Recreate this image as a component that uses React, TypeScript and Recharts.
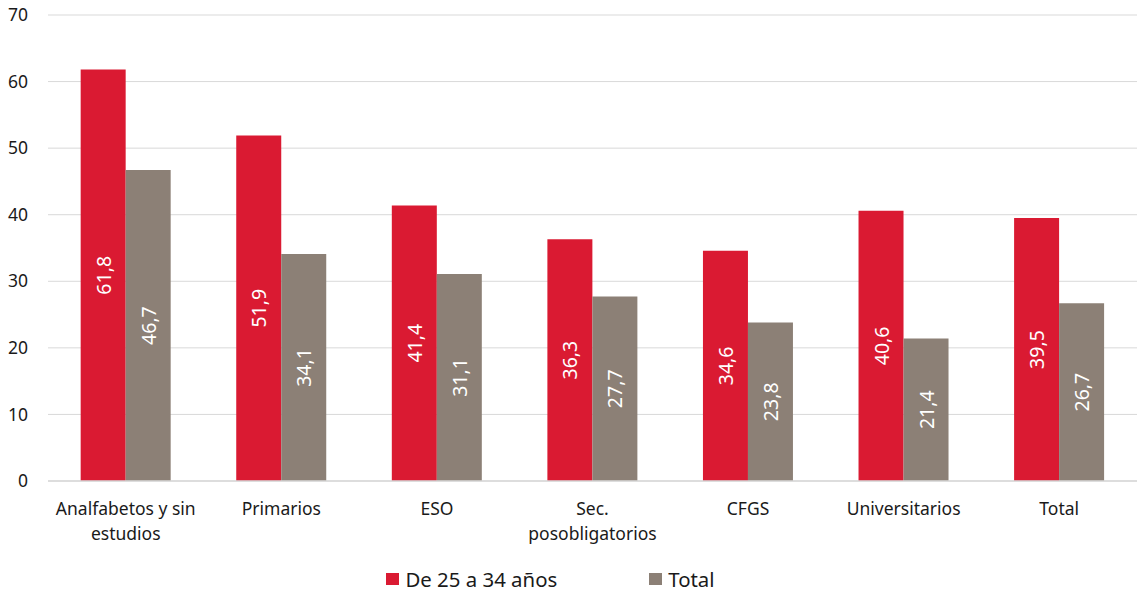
import React from "react";
import {
  BarChart,
  Bar,
  XAxis,
  YAxis,
  CartesianGrid,
  Legend,
  LabelList,
  Text,
} from "recharts";

const categories = [
  "Analfabetos y sin estudios",
  "Primarios",
  "ESO",
  "Sec. posobligatorios",
  "CFGS",
  "Universitarios",
  "Total",
];
const jovenes = [61.8, 51.9, 41.4, 36.3, 34.6, 40.6, 39.5];
const total = [46.7, 34.1, 31.1, 27.7, 23.8, 21.4, 26.7];
const yTicks = [0, 10, 20, 30, 40, 50, 60, 70];

const RED = "#DA1A32";
const GREY = "#8C8076";
const FONT = "'Noto Sans', 'Open Sans', sans-serif";

const data = categories.map((c, i) => ({
  categoria: c,
  jovenes: jovenes[i],
  total: total[i],
}));

const fmt = (v: number) => v.toFixed(1).replace(".", ",");

// value drawn vertically in the middle of each bar
const InsideLabel = (props: any) => {
  const { x, y, width, height, value } = props;
  const cx = x + width / 2;
  const cy = y + height / 2;
  return (
    <text
      x={cx}
      y={cy}
      transform={`rotate(-90, ${cx}, ${cy})`}
      textAnchor="middle"
      dominantBaseline="central"
      fill="#fff"
      fontSize={19.5}
      fontFamily={FONT}
    >
      {fmt(value)}
    </text>
  );
};

const CategoryTick = (props: any) => {
  const { x, y, payload } = props;
  return (
    <Text
      x={x}
      y={y}
      width={148}
      textAnchor="middle"
      verticalAnchor="start"
      fill="#1a1a1a"
      fontSize={17.5}
      fontFamily={FONT}
      style={{ fontFamily: FONT, fontSize: 17.5 }}
      lineHeight={25}
    >
      {payload.value}
    </Text>
  );
};

const LegendBox = () => {
  const items = [
    { label: "De 25 a 34 años", color: RED },
    { label: "Total", color: GREY },
  ];
  return (
    <div
      style={{
        display: "flex",
        justifyContent: "center",
        alignItems: "center",
        fontFamily: FONT,
        fontSize: 20.4,
        color: "#1a1a1a",
        paddingRight: 36,
      }}
    >
      {items.map((it, i) => (
        <div
          key={it.label}
          style={{
            display: "flex",
            alignItems: "center",
            marginRight: i === 0 ? 92 : 0,
          }}
        >
          <span
            style={{
              width: 13,
              height: 12,
              background: it.color,
              display: "inline-block",
              marginRight: 6,
            }}
          />
          <span>{it.label}</span>
        </div>
      ))}
    </div>
  );
};

export default function App() {
  return (
    <div style={{ position: "absolute", left: 0, top: 0, background: "#fff" }}>
      <BarChart
        width={1137}
        height={594}
        data={data}
        margin={{ top: 15, right: 0, left: 0, bottom: 0 }}
        barGap={0}
        barCategoryGap="21%"
      >
        <CartesianGrid vertical={false} stroke="#D9D9D9" />
        <XAxis
          dataKey="categoria"
          axisLine={{ stroke: "#D9D9D9", strokeWidth: 1.5 }}
          tickLine={false}
          tick={<CategoryTick />}
          tickMargin={16}
          height={85}
          interval={0}
        />
        <YAxis
          domain={[0, 70]}
          ticks={yTicks}
          axisLine={false}
          tickLine={false}
          width={48}
          tickMargin={14}
          tick={{ fill: "#1a1a1a", fontSize: 17.5, fontFamily: FONT }}
        />
        <Legend
          verticalAlign="bottom"
          content={<LegendBox />}
          wrapperStyle={{ bottom: 1 }}
        />
        <Bar dataKey="jovenes" fill={RED} isAnimationActive={false}>
          <LabelList dataKey="jovenes" content={<InsideLabel />} />
        </Bar>
        <Bar dataKey="total" fill={GREY} isAnimationActive={false}>
          <LabelList dataKey="total" content={<InsideLabel />} />
        </Bar>
      </BarChart>
    </div>
  );
}
